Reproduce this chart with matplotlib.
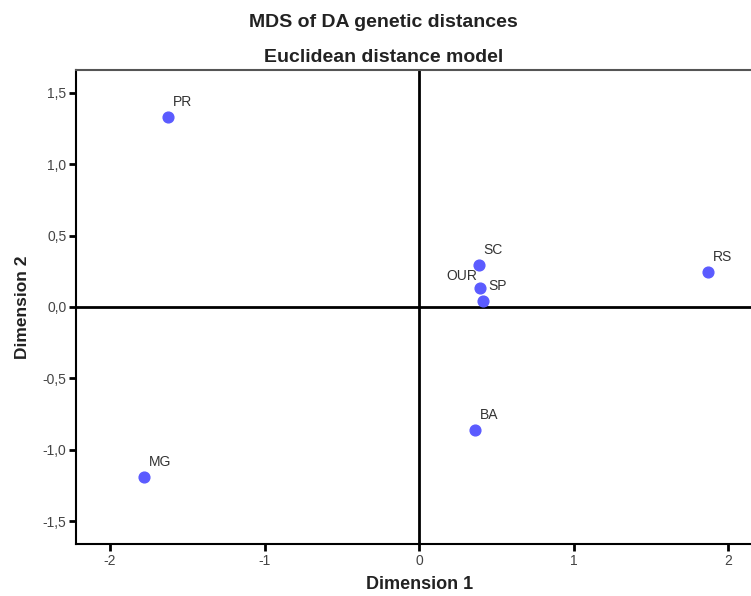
import matplotlib.pyplot as plt
from matplotlib.ticker import FuncFormatter

plt.rcParams['font.family'] = ['Liberation Sans', 'DejaVu Sans']

names = ['PR', 'SC', 'OUR', 'SP', 'RS', 'BA', 'MG']
dim1 = [-1.627, 0.384, 0.395, 0.414, 1.869, 0.363, -1.782]
dim2 = [1.331, 0.294, 0.131, 0.042, 0.247, -0.858, -1.193]

fig = plt.figure(figsize=(7.51, 5.96), dpi=100)
ax = fig.add_axes([0.1012, 0.0872, 0.9161, 0.7954])

ax.axhline(0, color='black', lw=2, zorder=1)
ax.axvline(0, color='black', lw=2, zorder=1)
ax.scatter(dim1, dim2, s=60, color='#5b5bff', edgecolors='#5b5bff', zorder=3)

for n, x, y in zip(names, dim1, dim2):
    if n == 'OUR':
        ax.annotate(n, (x, y), xytext=(-3, 5), textcoords='offset pixels',
                    ha='right', va='bottom', fontsize=10, color='#333333')
    else:
        ax.annotate(n, (x, y), xytext=(5, 8), textcoords='offset pixels',
                    ha='left', va='bottom', fontsize=10, color='#333333')

ax.set_xlim(-2.22, 2.23)
ax.set_ylim(-1.66, 1.66)
ax.set_xticks([-2, -1, 0, 1, 2])
ax.set_yticks([-1.5, -1.0, -0.5, 0.0, 0.5, 1.0, 1.5])
ax.yaxis.set_major_formatter(FuncFormatter(lambda v, p: f'{v:.1f}'.replace('.', ',')))
ax.xaxis.set_major_formatter(FuncFormatter(lambda v, p: f'{v:.0f}'))
ax.tick_params(direction='out', length=5, width=2, color='black',
               labelsize=10, labelcolor='#444444', pad=2)

for s in ['left', 'bottom']:
    ax.spines[s].set_color('black')
    ax.spines[s].set_linewidth(1.5)
ax.spines['top'].set_color('#555555')
ax.spines['top'].set_linewidth(1.5)
ax.spines['right'].set_visible(False)

ax.set_xlabel('Dimension 1', fontsize=13, fontweight='bold', color='#222222', labelpad=6)
ax.set_ylabel('Dimension 2', fontsize=12.5, fontweight='bold', color='#222222', labelpad=9)

fig.text(0.511, 0.963, 'MDS of DA genetic distances', ha='center', va='center',
         fontsize=14, fontweight='bold', color='#222222')
fig.text(0.511, 0.904, 'Euclidean distance model', ha='center', va='center',
         fontsize=14, fontweight='bold', color='#222222')

fig.savefig('out.png', dpi=100)
